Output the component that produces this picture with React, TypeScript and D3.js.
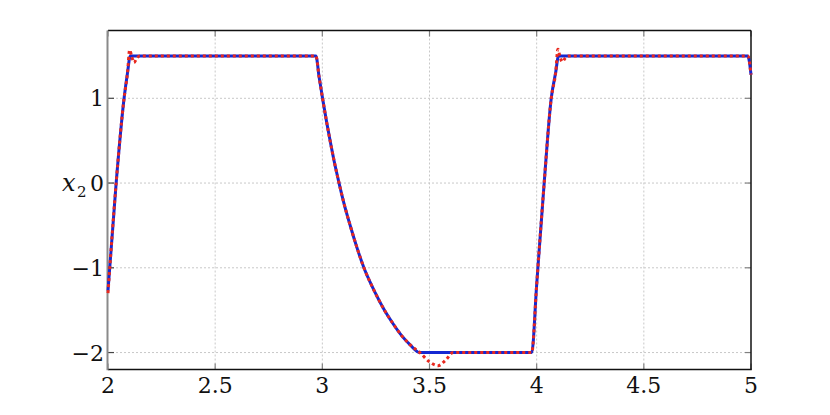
import React from "react";
import * as d3 from "d3";

const xTicks = [2, 2.5, 3, 3.5, 4, 4.5, 5];
const xTickLabels = ["2", "2.5", "3", "3.5", "4", "4.5", "5"];
const yTicks = [-2, -1, 0, 1];
const yTickLabels = ["\u22122", "\u22121", "0", "1"];

const blueX = [2.0, 2.038, 2.075, 2.091, 2.104, 2.97, 2.985, 3.003, 3.02, 3.037, 3.055, 3.078, 3.1, 3.131, 3.16, 3.194, 3.24, 3.292, 3.33, 3.37, 3.41, 3.455, 3.977, 4.0, 4.035, 4.068, 4.089, 4.102, 4.985, 5.0];
const blueY = [-1.27, 0.0, 1.0, 1.3, 1.5, 1.5, 1.25, 0.97, 0.72, 0.49, 0.26, 0.0, -0.23, -0.51, -0.75, -1.0, -1.26, -1.51, -1.66, -1.8, -1.91, -2.0, -2.0, -1.2, 0.0, 1.0, 1.31, 1.5, 1.5, 1.28];

const redX = [2.0, 2.038, 2.075, 2.091, 2.101, 2.11, 2.121, 2.134, 2.148, 2.97, 2.985, 3.003, 3.02, 3.037, 3.055, 3.078, 3.1, 3.131, 3.16, 3.194, 3.24, 3.292, 3.33, 3.37, 3.41, 3.455, 3.5, 3.54, 3.575, 3.61, 3.977, 4.0, 4.035, 4.068, 4.089, 4.099, 4.108, 4.119, 4.132, 4.146, 4.985, 5.0];
const redY = [-1.3, 0.0, 1.0, 1.3, 1.57, 1.5, 1.42, 1.47, 1.5, 1.5, 1.25, 0.97, 0.72, 0.49, 0.26, 0.0, -0.23, -0.51, -0.75, -1.0, -1.26, -1.51, -1.66, -1.8, -1.91, -2.0, -2.11, -2.155, -2.09, -2.0, -2.0, -1.2, 0.0, 1.0, 1.31, 1.58, 1.5, 1.43, 1.47, 1.5, 1.5, 1.28];

const W = 830;
const H = 415;
const left = 108;
const right = 751;
const top = 30.5;
const bottom = 369.5;
const font = '"DejaVu Serif", serif';

export default function App() {
  const x = d3.scaleLinear().domain([2, 5]).range([left, right]);
  const y = d3.scaleLinear().domain([-2.2, 1.8]).range([bottom, top]);

  const mk = d3
    .line<[number, number]>()
    .x((d) => x(d[0]))
    .y((d) => y(d[1]))
    .curve(d3.curveMonotoneX);
  const bluePath = mk(blueX.map((v, i) => [v, blueY[i]] as [number, number]));
  const redPath = mk(redX.map((v, i) => [v, redY[i]] as [number, number]));

  const txt = { fontFamily: font, fill: "#111" } as React.CSSProperties;

  return (
    <svg
      width={W}
      height={H}
      style={{ position: "absolute", left: 0, top: 0, background: "#fff" }}
    >
      <rect x={0} y={0} width={W} height={H} fill="#fff" />
      {xTicks.slice(1, -1).map((t) => (
        <line key={"gx" + t} x1={x(t)} x2={x(t)} y1={top} y2={bottom} stroke="#c8c8c8" strokeWidth={1} strokeDasharray="2,2" />
      ))}
      {yTicks.map((t) => (
        <line key={"gy" + t} x1={left} x2={right} y1={y(t)} y2={y(t)} stroke="#c8c8c8" strokeWidth={1} strokeDasharray="2,2" />
      ))}
      {xTicks.map((t) => (
        <g key={"tx" + t}>
          <line x1={x(t)} x2={x(t)} y1={bottom} y2={bottom - 6} stroke="#808080" strokeWidth={1.2} />
          <line x1={x(t)} x2={x(t)} y1={top} y2={top + 6} stroke="#808080" strokeWidth={1.2} />
        </g>
      ))}
      {yTicks.map((t) => (
        <g key={"ty" + t}>
          <line x1={left} x2={left + 6} y1={y(t)} y2={y(t)} stroke="#444" strokeWidth={1.2} />
          <line x1={right} x2={right - 6} y1={y(t)} y2={y(t)} stroke="#808080" strokeWidth={1.2} />
        </g>
      ))}
      <line x1={left} x2={right} y1={top} y2={top} stroke="#111" strokeWidth={1.5} />
      <line x1={right} x2={right} y1={top} y2={bottom} stroke="#111" strokeWidth={1.5} />
      <line x1={left} x2={right + 0.75} y1={bottom} y2={bottom} stroke="#111" strokeWidth={1.5} />
      <line x1={left - 0.5} x2={left - 0.5} y1={top} y2={bottom + 0.75} stroke="#8a8a8a" strokeWidth={2} />
      <path d={bluePath || ""} fill="none" stroke="#1428d2" strokeWidth={3} strokeLinejoin="round" />
      <path d={redPath || ""} fill="none" stroke="#e8281e" strokeWidth={3} strokeDasharray="3,3" />
      {xTicks.map((t, i) => (
        <text key={"lx" + t} x={x(t)} y={393} textAnchor="middle" style={{ ...txt, fontSize: "22px" }}>
          {xTickLabels[i]}
        </text>
      ))}
      {yTicks.map((t, i) => (
        <text key={"ly" + t} x={104} y={y(t) + 8} textAnchor="end" style={{ ...txt, fontSize: "22px" }}>
          {yTickLabels[i]}
        </text>
      ))}
      <text x={62} y={191} style={{ ...txt, fontSize: "24px", fontStyle: "italic" }}>
        x
      </text>
      <text x={77} y={197} style={{ ...txt, fontSize: "15px" }}>
        2
      </text>
    </svg>
  );
}
